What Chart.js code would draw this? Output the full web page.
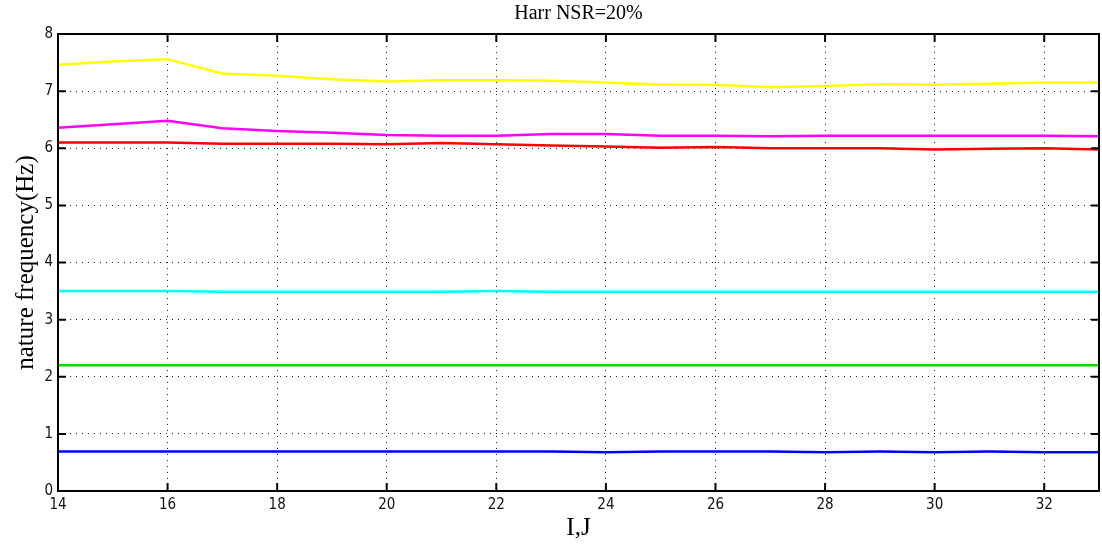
<!DOCTYPE html>
<html lang="en">
<head>
    <meta charset="UTF-8">
    <title>Harr NSR=20%</title>
    <script src="https://cdn.jsdelivr.net/npm/chart.js@4/dist/chart.umd.min.js"></script>
    <style>
        html, body {
            margin: 0;
            padding: 0;
            background: #fff;
        }
        #wrap {
            width: 1102px;
            height: 549px;
        }
    </style>
</head>
<body>
    <div id="wrap">
        <canvas id="freqChart" width="1102" height="549"></canvas>
    </div>

    <script>
        // Data
        const ijValues = [14, 15, 16, 17, 18, 19, 20, 21, 22, 23, 24, 25, 26, 27, 28, 29, 30, 31, 32, 33];
        const yellowFreq = [7.46, 7.52, 7.56, 7.31, 7.27, 7.21, 7.17, 7.19, 7.19, 7.18, 7.15, 7.11, 7.11, 7.07, 7.09, 7.12, 7.11, 7.13, 7.15, 7.15];
        const magentaFreq = [6.36, 6.42, 6.48, 6.35, 6.30, 6.27, 6.23, 6.22, 6.22, 6.25, 6.25, 6.22, 6.22, 6.21, 6.22, 6.22, 6.22, 6.22, 6.22, 6.21];
        const redFreq = [6.10, 6.10, 6.10, 6.08, 6.08, 6.08, 6.07, 6.09, 6.07, 6.05, 6.03, 6.01, 6.02, 6.00, 6.00, 6.00, 5.98, 5.99, 6.00, 5.98];
        const cyanFreq = [3.50, 3.50, 3.50, 3.49, 3.49, 3.49, 3.49, 3.49, 3.50, 3.49, 3.49, 3.49, 3.49, 3.49, 3.49, 3.49, 3.49, 3.49, 3.49, 3.49];
        const greenFreq = [2.20, 2.20, 2.20, 2.20, 2.20, 2.20, 2.20, 2.20, 2.20, 2.20, 2.20, 2.20, 2.20, 2.20, 2.20, 2.20, 2.20, 2.20, 2.20, 2.20];
        const blueFreq = [0.69, 0.69, 0.69, 0.69, 0.69, 0.69, 0.69, 0.69, 0.69, 0.69, 0.68, 0.69, 0.69, 0.69, 0.68, 0.69, 0.68, 0.69, 0.68, 0.68];

        const xTicks = [14, 16, 18, 20, 22, 24, 26, 28, 30, 32];
        const yTicks = [0, 1, 2, 3, 4, 5, 6, 7, 8];

        function series(values, color) {
            return {
                data: ijValues.map((x, i) => ({ x: x, y: values[i] })),
                borderColor: color,
                backgroundColor: color,
                borderWidth: 2.5,
                pointRadius: 0,
                tension: 0,
                fill: false
            };
        }

        // frame box and inward tick marks, like a matlab axes
        const frameTicks = {
            id: 'frameTicks',
            afterDraw(chart) {
                const ctx = chart.ctx;
                const a = chart.chartArea;
                const xs = chart.scales.x;
                const ys = chart.scales.y;
                ctx.save();
                ctx.strokeStyle = '#000';
                ctx.lineWidth = 2;
                ctx.strokeRect(a.left, a.top, a.right - a.left, a.bottom - a.top);
                ctx.beginPath();
                xTicks.forEach(v => {
                    const px = xs.getPixelForValue(v);
                    ctx.moveTo(px, a.bottom); ctx.lineTo(px, a.bottom - 8);
                    ctx.moveTo(px, a.top); ctx.lineTo(px, a.top + 8);
                });
                yTicks.forEach(v => {
                    const py = ys.getPixelForValue(v);
                    ctx.moveTo(a.left, py); ctx.lineTo(a.left + 8, py);
                    ctx.moveTo(a.right, py); ctx.lineTo(a.right - 8, py);
                });
                ctx.stroke();
                ctx.restore();
            }
        };

        const tickFont = { family: '"Liberation Sans Narrow", "DejaVu Sans Condensed", "Liberation Sans", Arial, sans-serif', size: 15 };
        const serifFont = '"Liberation Serif", "Times New Roman", serif';

        new Chart(document.getElementById('freqChart').getContext('2d'), {
            type: 'line',
            data: {
                datasets: [
                    series(yellowFreq, '#ffff00'),
                    series(magentaFreq, '#ff00ff'),
                    series(redFreq, '#ff0000'),
                    series(cyanFreq, '#00ffff'),
                    series(greenFreq, '#00e000'),
                    series(blueFreq, '#0000ff')
                ]
            },
            options: {
                responsive: false,
                animation: false,
                layout: { padding: { left: 0, right: 3, top: 0, bottom: 0 } },
                plugins: {
                    legend: { display: false },
                    tooltip: { enabled: false },
                    title: {
                        display: true,
                        fullSize: false,
                        text: 'Harr NSR=20%',
                        color: '#000',
                        font: { family: serifFont, size: 20, weight: 'normal' },
                        padding: { top: 2, bottom: 8 }
                    }
                },
                scales: {
                    x: {
                        type: 'linear',
                        min: 14,
                        max: 33,
                        afterFit: s => { s.height = 58; },
                        afterBuildTicks: s => { s.ticks = xTicks.map(v => ({ value: v })); },
                        ticks: { color: '#111', font: tickFont, padding: 5, maxRotation: 0 },
                        grid: { color: '#222', lineWidth: 1, drawTicks: false },
                        border: { display: false, dash: [1, 5] },
                        title: {
                            display: true,
                            text: 'I,J',
                            color: '#000',
                            font: { family: serifFont, size: 25 },
                            padding: { top: 0, bottom: 6 }
                        }
                    },
                    y: {
                        min: 0,
                        max: 8,
                        afterFit: s => { s.width = 58; },
                        afterBuildTicks: s => { s.ticks = yTicks.map(v => ({ value: v })); },
                        ticks: { color: '#111', font: tickFont, padding: 5 },
                        grid: { color: '#222', lineWidth: 1, drawTicks: false },
                        border: { display: false, dash: [1, 5] },
                        title: {
                            display: true,
                            text: 'nature frequency(Hz)',
                            color: '#000',
                            font: { family: serifFont, size: 25 },
                            padding: { top: 11, bottom: 0 }
                        }
                    }
                }
            },
            plugins: [frameTicks]
        });
    </script>
</body>
</html>
